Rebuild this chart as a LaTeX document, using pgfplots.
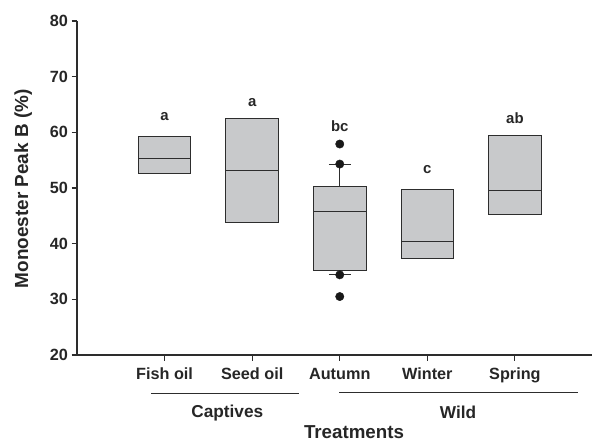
\documentclass[border=0pt]{standalone}
\usepackage{fontspec}
\setmainfont{Liberation Sans}
\usepackage{pgfplots}
\pgfplotsset{compat=1.18}
\usepgfplotslibrary{statistics}
\definecolor{boxgray}{RGB}{200,201,203}
\definecolor{edge}{RGB}{45,45,45}
\begin{document}
\begin{tikzpicture}
\path[use as bounding box] (-77bp,-86bp) rectangle (515bp,355bp);
\begin{axis}[
  at={(0,0)}, anchor=south west,
  scale only axis, width=515bp, height=334bp,
  xmin=-1, xmax=4.88, ymin=20, ymax=80,
  axis x line*=bottom, axis y line*=left,
  axis line style={-, line width=1.3bp, draw=edge},
  ytick={20,30,...,80},
  xtick={0,1,2,3,4},
  xticklabels={Fish oil, Seed oil, Autumn, Winter, Spring},
  tick align=outside, major tick length=5.5bp,
  tick style={line width=1.1bp, draw=edge},
  /pgf/number format/assume math mode=true,
  ticklabel style={font=\fontsize{16.3}{16.3}\selectfont\bfseries, text=black!85},
  xticklabel style={yshift=-4bp},
  clip=false,
  boxplot/draw direction=y,
  boxplot/box extend=0.6,
  boxplot/whisker extend=0,
]
\addplot[boxplot prepared={draw position=0, lower whisker=52.57, lower quartile=52.57, median=55.27, upper quartile=59.34, upper whisker=59.34}, fill=boxgray, draw=edge, line width=0.9bp] coordinates {};
\addplot[boxplot prepared={draw position=1, lower whisker=43.8, lower quartile=43.8, median=53.2, upper quartile=62.5, upper whisker=62.5}, fill=boxgray, draw=edge, line width=0.9bp] coordinates {};
\addplot[boxplot prepared={draw position=2, lower whisker=34.4, lower quartile=35.15, median=45.7, upper quartile=50.3, upper whisker=54.3, whisker extend=0.25}, fill=boxgray, draw=edge, line width=0.9bp] coordinates {};
\addplot[boxplot prepared={draw position=3, lower whisker=37.37, lower quartile=37.37, median=40.35, upper quartile=49.7, upper whisker=49.7}, fill=boxgray, draw=edge, line width=0.9bp] coordinates {};
\addplot[boxplot prepared={draw position=4, lower whisker=45.33, lower quartile=45.33, median=49.6, upper quartile=59.4, upper whisker=59.4}, fill=boxgray, draw=edge, line width=0.9bp] coordinates {};
\addplot[only marks, mark=*, mark size=4.2bp, black!90, mark options={draw=black!90, fill=black!90}] coordinates {(2,57.9) (2,54.3) (2,34.4) (2,30.5)};
\node[font=\fontsize{15}{15}\selectfont\bfseries, text=black!85] at (axis cs:0,62.8) {a};
\node[font=\fontsize{15}{15}\selectfont\bfseries, text=black!85] at (axis cs:1,65.4) {a};
\node[font=\fontsize{15}{15}\selectfont\bfseries, text=black!85] at (axis cs:2,61.1) {bc};
\node[font=\fontsize{15}{15}\selectfont\bfseries, text=black!85] at (axis cs:3,53.4) {c};
\node[font=\fontsize{15}{15}\selectfont\bfseries, text=black!85] at (axis cs:4,62.5) {ab};
\end{axis}
\draw[edge, line width=1bp] (74bp,-38bp) -- (222.3bp,-38bp);
\draw[edge, line width=1bp] (262.3bp,-37.3bp) -- (501.3bp,-37.3bp);
\node[anchor=base, font=\fontsize{17.3}{17.3}\selectfont\bfseries, text=black!85] at (150.3bp,-62.3bp) {Captives};
\node[anchor=base, font=\fontsize{17.3}{17.3}\selectfont\bfseries, text=black!85] at (381bp,-63bp) {Wild};
\node[anchor=base, font=\fontsize{18.8}{18.8}\selectfont\bfseries, text=black!85] at (277bp,-83bp) {Treatments};
\node[rotate=90, font=\fontsize{19}{19}\selectfont\bfseries, text=black!85] at (-53.7bp,166.1bp) {Monoester Peak B (\%)};
\end{tikzpicture}
\end{document}
